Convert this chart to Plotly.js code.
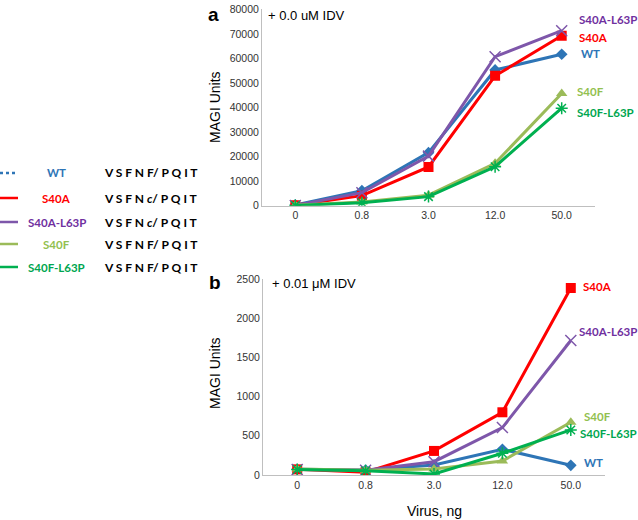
<!DOCTYPE html>
<html>
<head>
<meta charset="utf-8">
<script src="https://cdn.plot.ly/plotly-3.0.1.min.js"></script>
<style>html,body{margin:0;padding:0;background:#fff;}#chart{width:638px;height:520px;}</style>
</head>
<body>
<div id="chart"></div>
<script>
// ---- data ----
const doses = ["0", "0.8", "3.0", "12.0", "50.0"];
const seriesNames = ["WT", "S40A", "S40A-L63P", "S40F", "S40F-L63P"];
const sequences = ["V S F N F/ P Q I T", "V S F N <i>c</i>/ P Q I T", "V S F N <i>c</i>/ P Q I T", "V S F N F/ P Q I T", "V S F N F/ P Q I T"];

// panel a: + 0.0 uM IDV
const wtA       = [300, 6100, 21600, 55300, 61700];
const s40aA     = [200, 4100, 15800, 52900, 69200];
const s40aL63pA = [100, 5300, 20200, 60700, 71300];
const s40fA     = [200, 1500, 4300, 17300, 45700];
const s40fL63pA = [100, 1200, 3700, 15900, 39700];

// panel b: + 0.01 uM IDV
const wtB       = [72, 64, 128, 328, 124];
const s40aB     = [72, 35, 307, 800, 2385];
const s40aL63pB = [70, 60, 170, 605, 1716];
const s40fB     = [75, 60, 77, 179, 673];
const s40fL63pB = [70, 55, 13, 277, 575];

// ---- styles ----
const colors = ["#2E75B6", "#FF0000", "#7E57AA", "#9BBB59", "#00B050"];
const labelColors = ["#2E75B6", "#FF0000", "#7030A0", "#92C050", "#00A650"];
const symbols = ["diamond", "square", "x-thin-open", "triangle-up", "asterisk-open"];
const msizes = [9, 10, 11, 10, 10];

const dataA = [wtA, s40aA, s40aL63pA, s40fA, s40fL63pA];
const dataB = [wtB, s40aB, s40aL63pB, s40fB, s40fL63pB];

const traces = [];
function addTraces(arr, xa, ya) {
  arr.forEach((vals, i) => {
    traces.push({
      x: doses, y: vals, type: "scatter", mode: "lines+markers",
      xaxis: xa, yaxis: ya, name: seriesNames[i], showlegend: false,
      line: {color: colors[i], width: 3},
      marker: {symbol: symbols[i], size: msizes[i], color: colors[i],
               line: {color: colors[i], width: (symbols[i].indexOf("open") >= 0 ? 1.5 : 0)}}
    });
  });
}
addTraces(dataA, "x", "y");
addTraces(dataB, "x2", "y2");

const W = 638, H = 520;
const px = x => x / W;
const py = y => 1 - y / H;

const tickFont = {family: "Liberation Sans, Arial, sans-serif", size: 10.5, color: "#333"};
const labFont = (c) => ({family: "Lato, Calibri, sans-serif", size: 11.5, color: c});

const annotations = [];
const shapes = [];

// end labels
const endA = [[579, 54], [577, 38], [577, 20], [575, 91], [575, 112]];
const endB = [[582, 462], [581, 286], [577, 331], [582, 416], [578, 433]];
seriesNames.forEach((n, i) => {
  annotations.push({xref: "paper", yref: "paper", x: px(endA[i][0]), y: py(endA[i][1]), xanchor: "left", yanchor: "middle",
    text: "<b>" + n + "</b>", showarrow: false, font: labFont(labelColors[i])});
  annotations.push({xref: "paper", yref: "paper", x: px(endB[i][0]), y: py(endB[i][1]), xanchor: "left", yanchor: "middle",
    text: "<b>" + n + "</b>", showarrow: false, font: labFont(labelColors[i])});
});

// left legend
const legY = [173, 198, 222, 244, 267];
seriesNames.forEach((n, i) => {
  shapes.push({type: "line", xref: "paper", yref: "paper", x0: 0, x1: px(18), y0: py(legY[i]), y1: py(legY[i]),
    line: {color: colors[i], width: 2.5, dash: i === 0 ? "dot" : "solid"}});
  annotations.push({xref: "paper", yref: "paper", x: px(57), y: py(legY[i]), xanchor: "center", yanchor: "middle",
    text: "<b>" + n + "</b>", showarrow: false, font: labFont(labelColors[i])});
  annotations.push({xref: "paper", yref: "paper", x: px(102), y: py(legY[i]), xanchor: "left", yanchor: "middle",
    text: "<b>" + sequences[i] + "</b>", showarrow: false,
    font: {family: "Lato, Calibri, sans-serif", size: 12, color: "#000"}});
});

// panel letters and conditions
annotations.push({xref: "paper", yref: "paper", x: px(213), y: py(14), xanchor: "center", yanchor: "middle",
  text: "<b>a</b>", showarrow: false, font: {family: "Liberation Sans, Arial", size: 19, color: "#000"}});
annotations.push({xref: "paper", yref: "paper", x: px(215), y: py(282), xanchor: "center", yanchor: "middle",
  text: "<b>b</b>", showarrow: false, font: {family: "Liberation Sans, Arial", size: 19, color: "#000"}});
annotations.push({xref: "paper", yref: "paper", x: px(266), y: py(15), xanchor: "left", yanchor: "middle",
  text: "+ 0.0 uM IDV", showarrow: false, font: {family: "Liberation Sans, Arial", size: 13, color: "#000"}});
annotations.push({xref: "paper", yref: "paper", x: px(270), y: py(283), xanchor: "left", yanchor: "middle",
  text: "+ 0.01 μM IDV", showarrow: false, font: {family: "Liberation Sans, Arial", size: 13, color: "#000"}});

// axis titles
annotations.push({xref: "paper", yref: "paper", x: px(215), y: py(107), xanchor: "center", yanchor: "middle",
  text: "MAGI Units", textangle: -90, showarrow: false, font: {family: "Liberation Sans, Arial", size: 14, color: "#000"}});
annotations.push({xref: "paper", yref: "paper", x: px(215), y: py(373), xanchor: "center", yanchor: "middle",
  text: "MAGI Units", textangle: -90, showarrow: false, font: {family: "Liberation Sans, Arial", size: 14, color: "#000"}});
annotations.push({xref: "paper", yref: "paper", x: px(434), y: py(511), xanchor: "center", yanchor: "middle",
  text: "Virus, ng", showarrow: false, font: {family: "Liberation Sans, Arial", size: 14, color: "#000"}});

const xCommon = {type: "category", range: [-0.5, 4.5], showgrid: false, zeroline: false, showline: true,
  linecolor: "#bfbfbf", linewidth: 1, ticks: "", tickfont: tickFont, fixedrange: true};
const yCommon = {showgrid: false, zeroline: false, showline: true, linecolor: "#bfbfbf", linewidth: 1,
  ticks: "", tickfont: tickFont, fixedrange: true, tickformat: "d", exponentformat: "none", separatethousands: false};

const layout = {
  width: W, height: H,
  margin: {l: 0, r: 0, t: 0, b: 0},
  paper_bgcolor: "#fff", plot_bgcolor: "#fff",
  showlegend: false,
  xaxis: Object.assign({}, xCommon, {domain: [px(262), px(595)], anchor: "y"}),
  yaxis: Object.assign({}, yCommon, {domain: [py(205.7), py(9.3)], range: [0, 80000], dtick: 10000, anchor: "x"}),
  xaxis2: Object.assign({}, xCommon, {domain: [px(263), px(605)], anchor: "y2"}),
  yaxis2: Object.assign({}, yCommon, {domain: [py(475), py(279)], range: [0, 2500], dtick: 500, anchor: "x2"}),
  annotations: annotations,
  shapes: shapes
};

Plotly.newPlot("chart", traces, layout, {displayModeBar: false, staticPlot: true});
</script>
</body>
</html>
